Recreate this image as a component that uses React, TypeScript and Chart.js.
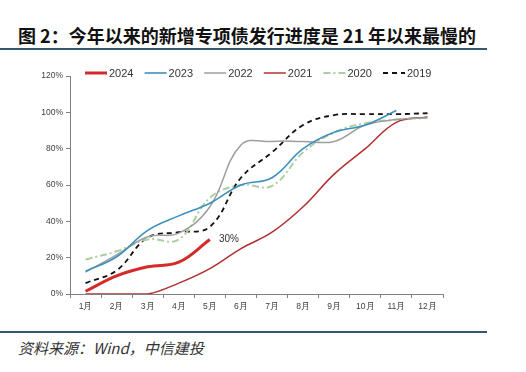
import React, { useEffect, useRef } from "react";
import { Chart, registerables } from "chart.js";

Chart.register(...registerables);

const months = ["1月", "2月", "3月", "4月", "5月", "6月", "7月", "8月", "9月", "10月", "11月", "12月"];
const yTicks = [0, 20, 40, 60, 80, 100, 120];
const s2024 = [1.5, 10, 15, 17.5, 30];
const s2023 = [12.5, 20.5, 35, 43, 50, 60, 64, 80, 89, 93, 101];
const s2022 = [12, 21.5, 31.5, 33.5, 48, 82, 84, 84, 84, 93, 96, 97];
const s2021 = [0, 0, 0, 6, 14, 25, 34, 48, 66, 80, 94.5, 97.5];
const s2020 = [19, 23.5, 30, 30, 53, 60, 59.5, 78, 89, 94, 96, 97];
const s2019 = [6, 13, 31, 34, 37, 64, 78, 93, 98.5, 99, 99, 99.5];
const lastLabel = "30%";

const legendPlugin = {
  id: "customLegend",
  afterDraw(chart: any) {
    const ctx = chart.ctx;
    const area = chart.chartArea;
    const y = 18;
    let x = area.left + 15;
    ctx.save();
    ctx.font = "11px 'Liberation Sans', Arial, sans-serif";
    ctx.textBaseline = "middle";
    chart.data.datasets.forEach((ds: any) => {
      ctx.beginPath();
      ctx.strokeStyle = ds.borderColor;
      ctx.lineWidth = ds.borderWidth;
      ctx.setLineDash(ds.borderDash || []);
      ctx.moveTo(x, y);
      ctx.lineTo(x + 22, y);
      ctx.stroke();
      ctx.setLineDash([]);
      ctx.fillStyle = "#333";
      ctx.textAlign = "left";
      ctx.fillText(ds.label, x + 24, y + 1);
      x += 59.6;
    });
    const meta = chart.getDatasetMeta(0);
    const pt = meta.data[meta.data.length - 1];
    if (pt) {
      ctx.font = "10px 'Liberation Sans', Arial, sans-serif";
      ctx.fillStyle = "#333";
      ctx.fillText(lastLabel, pt.x + 9, pt.y);
    }
    ctx.restore();
  },
};

export default function App() {
  const ref = useRef<HTMLCanvasElement>(null);
  useEffect(() => {
    if (!ref.current) return;
    const mk = (label: string, data: number[], color: string, width: number, dash: number[] = [], tension = 0.4) => ({
      label,
      data,
      borderColor: color,
      backgroundColor: color,
      borderWidth: width,
      borderDash: dash,
      pointRadius: 0,
      tension,
      fill: false,
    });
    const chart = new Chart(ref.current, {
      type: "line",
      data: {
        labels: months,
        datasets: [
          mk("2024", s2024, "#d42a2a", 3),
          mk("2023", s2023, "#3d8fbf", 1.6),
          mk("2022", s2022, "#9e9e9e", 1.5),
          mk("2021", s2021, "#b03030", 1.5),
          mk("2020", s2020, "#a9d0a0", 2, [7, 3, 2, 3]),
          mk("2019", s2019, "#111111", 1.8, [5, 4]),
        ],
      },
      options: {
        animation: false,
        responsive: false,
        maintainAspectRatio: false,
        layout: { padding: { top: 21, right: 57, left: 0, bottom: 0 } },
        plugins: { legend: { display: false }, tooltip: { enabled: false } },
        scales: {
          x: {
            offset: true,
            grid: { offset: true, drawOnChartArea: false, drawTicks: true, tickLength: 4, color: "#808080" },
            border: { color: "#808080", width: 1 },
            ticks: { color: "#404040", font: { size: 8.5, family: "'Liberation Sans', Arial, sans-serif" }, padding: 4, maxRotation: 0, autoSkip: false },
            afterFit: (s: any) => { s.height = 31; },
          },
          y: {
            min: 0,
            max: 120,
            afterBuildTicks: (s: any) => { s.ticks = yTicks.map((v) => ({ value: v })); },
            grid: { drawOnChartArea: false, drawTicks: true, tickLength: 4, color: "#808080" },
            border: { color: "#808080", width: 1 },
            ticks: { color: "#404040", font: { size: 8.5, family: "'Liberation Sans', Arial, sans-serif" }, padding: 3, callback: (v: any) => v + "%" },
            afterFit: (s: any) => { s.width = 70; },
          },
        },
      },
      plugins: [legendPlugin],
    });
    return () => chart.destroy();
  }, []);

  return (
    <div style={{ position: "absolute", left: 0, top: 0, width: 526, height: 372, background: "#fff", overflow: "hidden" }}>
      <div style={{ position: "absolute", left: 18, top: 26, fontSize: 18, lineHeight: "18px", fontWeight: 700, color: "#111", fontFamily: "'Noto Sans CJK SC', sans-serif", whiteSpace: "nowrap" }}>
        图 2：今年以来的新增专项债发行进度是 21 年以来最慢的
      </div>
      <div style={{ position: "absolute", left: 0, top: 48, width: 487, height: 2, background: "#33596c" }} />
      <canvas ref={ref} width={500} height={270} style={{ position: "absolute", left: 0, top: 55, width: 500, height: 270 }} />
      <div style={{ position: "absolute", left: 0, top: 331, width: 487, height: 2, background: "#33596c" }} />
      <div style={{ position: "absolute", left: 18, top: 340, fontSize: 15, lineHeight: "16px", fontStyle: "italic", color: "#333", fontFamily: "'Noto Sans CJK SC', sans-serif", whiteSpace: "nowrap" }}>
        资料来源：Wind，中信建投
      </div>
    </div>
  );
}
